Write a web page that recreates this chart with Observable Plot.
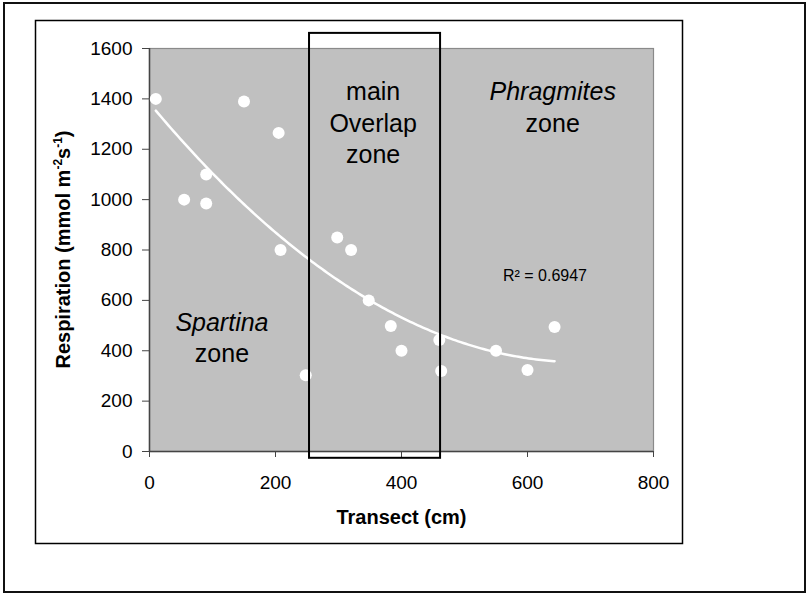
<!DOCTYPE html>
<html>
<head>
<meta charset="utf-8">
<script src="https://cdn.jsdelivr.net/npm/d3@7"></script>
<script src="https://cdn.jsdelivr.net/npm/@observablehq/plot@0.6"></script>
<style>
  body { margin: 0; background: #fff; }
  #chart svg { display: block; }
</style>
</head>
<body>
<div id="chart"></div>
<script>
// Soil respiration measured along the marsh transect
const transect    = [10, 150, 205, 90, 55, 90, 208, 298, 320, 348, 383, 400, 460, 463, 248, 550, 600, 643];
const respiration = [1400, 1390, 1265, 1100, 1000, 985, 800, 850, 800, 600, 498, 400, 443, 320, 303, 400, 324, 494];

const xTicks = [0, 200, 400, 600, 800];
const yTicks = [0, 200, 400, 600, 800, 1000, 1200, 1400, 1600];

// Extent of the main overlap zone (transect cm, respiration units)
const overlapZone = [{x1: 254, x2: 462, y1: -27, y2: 1660}];

// Zone annotations
const zoneLabelsItalic = [
  {x: 640, y: 1397, text: "Phragmites"},
  {x: 115, y: 480, text: "Spartina"}
];
const zoneLabelsPlain = [
  {x: 355, y: 1397, text: "main"},
  {x: 355, y: 1270, text: "Overlap"},
  {x: 355, y: 1144, text: "zone"},
  {x: 640, y: 1270, text: "zone"},
  {x: 115, y: 354, text: "zone"}
];
const r2Label = [{x: 561, y: 678, text: "R² = 0.6947"}];

const points = transect.map((x, i) => ({x, y: respiration[i]}));

// Second-order polynomial least-squares trendline
function quadFit(pts) {
  let n = pts.length, s1 = 0, s2 = 0, s3 = 0, s4 = 0, t0 = 0, t1 = 0, t2 = 0;
  for (const {x, y} of pts) {
    s1 += x; s2 += x * x; s3 += x ** 3; s4 += x ** 4;
    t0 += y; t1 += x * y; t2 += x * x * y;
  }
  const det = (m) =>
    m[0][0] * (m[1][1] * m[2][2] - m[1][2] * m[2][1]) -
    m[0][1] * (m[1][0] * m[2][2] - m[1][2] * m[2][0]) +
    m[0][2] * (m[1][0] * m[2][1] - m[1][1] * m[2][0]);
  const A = [[n, s1, s2], [s1, s2, s3], [s2, s3, s4]];
  const b = [t0, t1, t2];
  const D = det(A);
  const coef = [0, 1, 2].map((k) => det(A.map((row, i) => row.map((v, j) => (j === k ? b[i] : v)))) / D);
  return (x) => coef[0] + coef[1] * x + coef[2] * x * x;
}
const fit = quadFit(points);
const [xMin, xMax] = d3.extent(transect);
const trend = d3.range(xMin, xMax, 4).concat([xMax]).map((x) => ({x, y: fit(x)}));

const font = "'Liberation Sans', Arial, Helvetica, sans-serif";

const chart = Plot.plot({
  width: 806,
  height: 593,
  marginLeft: 149,
  marginRight: 153,
  marginTop: 48,
  marginBottom: 142,
  style: {fontFamily: font, fontSize: "19px", color: "#000", background: "#fff"},
  x: {domain: [0, 800]},
  y: {domain: [0, 1600]},
  marks: [
    Plot.frame({fill: "#c0c0c0", stroke: "#8a8a8a", strokeWidth: 1.2}),
    Plot.ruleX([0], {stroke: "#444", strokeWidth: 1.5}),
    Plot.ruleY([0], {stroke: "#444", strokeWidth: 1.5}),
    Plot.axisX({ticks: xTicks, tickSize: 6, tickPadding: 18, stroke: "#444", fill: "#000", label: null, tickFormat: (d) => String(d)}),
    Plot.axisY({ticks: yTicks, tickSize: 7, tickPadding: 10, stroke: "#444", fill: "#000", label: null, tickFormat: (d) => String(d)}),
    Plot.line(trend, {x: "x", y: "y", stroke: "#fff", strokeWidth: 2.5, curve: "linear"}),
    Plot.dot(points, {x: "x", y: "y", r: 6, fill: "#fff", stroke: "none"}),
    Plot.rect(overlapZone, {x1: "x1", x2: "x2", y1: "y1", y2: "y2", fill: "none", stroke: "#000", strokeWidth: 2}),
    Plot.text(zoneLabelsPlain, {x: "x", y: "y", text: "text", fontSize: 25, lineAnchor: "bottom", textAnchor: "middle", fill: "#000"}),
    Plot.text(zoneLabelsItalic, {x: "x", y: "y", text: "text", fontSize: 25, fontStyle: "italic", lineAnchor: "bottom", textAnchor: "middle", fill: "#000"}),
    Plot.text(r2Label, {x: "x", y: "y", text: "text", fontSize: 16, lineAnchor: "bottom", textAnchor: "start", fill: "#000"}),
    Plot.text(["Transect (cm)"], {frameAnchor: "bottom", dy: 72, lineAnchor: "bottom", fontSize: 20, fontWeight: "bold", fill: "#000"})
  ]
});

const svg = d3.select(chart);

// Outer page border and chart border
svg.insert("rect", ":first-child")
  .attr("x", 35.5).attr("y", 20.5).attr("width", 647).attr("height", 523)
  .attr("fill", "none").attr("stroke", "#000").attr("stroke-width", 1.5);
svg.insert("rect", ":first-child")
  .attr("x", 4).attr("y", 3).attr("width", 801).attr("height", 589)
  .attr("fill", "none").attr("stroke", "#111").attr("stroke-width", 2);

// Y-axis title with superscript exponents
const yScale = chart.scale("y");
const yMid = (yScale.apply(0) + yScale.apply(1600)) / 2;
const yTitle = svg.append("text")
  .attr("transform", `translate(70,${yMid}) rotate(-90)`)
  .attr("text-anchor", "middle")
  .attr("font-family", font)
  .attr("font-size", 20)
  .attr("font-weight", "bold")
  .attr("fill", "#000");
yTitle.append("tspan").text("Respiration (mmol m");
yTitle.append("tspan").attr("font-size", 12).attr("dy", -8).text("-2");
yTitle.append("tspan").attr("dy", 8).text("s");
yTitle.append("tspan").attr("font-size", 12).attr("dy", -8).text("-1");
yTitle.append("tspan").attr("dy", 8).text(")");

document.getElementById("chart").append(chart);
</script>
</body>
</html>
